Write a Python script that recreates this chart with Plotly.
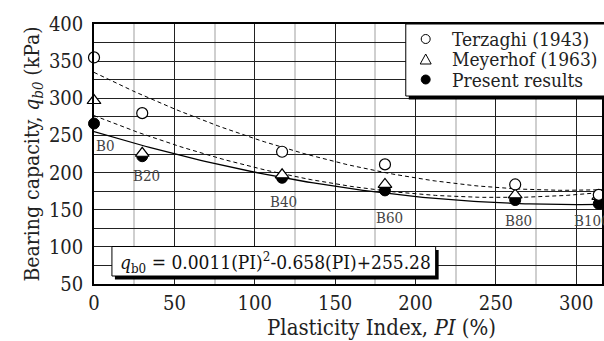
import numpy as np
import plotly.graph_objects as go

# ---- data ----
pi_vals = [0, 30, 117, 181, 262, 314]
terzaghi = [355, 280, 228, 211, 184, 170]
meyerhof = [297, 226, 197, 184, 170, 168]
present = [266, 222, 193, 176, 163, 158]
present_coef = [0.0011, -0.658, 255.28]  # equation shown on chart
sample_labels = ["B0", "B20", "B40", "B60", "B80", "B100"]
label_x = [0, 32.5, 118, 184, 264, 297.5]
label_y = [236, 195, 161, 139, 135, 135]
legend_names = ["Terzaghi (1943)", "Meyerhof (1963)", "Present results"]
x_curve_range = [0, 316]

FONT = "DejaVu Serif Condensed, Liberation Serif, serif"
W, H = 604, 341
L, R, T, B = 94, 0, 24, 57
PW, PH = W - L - R, H - T - B


def px(X):
    return (X - L) / PW


def py(Y):
    return (H - B - Y) / PH


xc = np.linspace(x_curve_range[0], x_curve_range[1], 120)
terz_fit = np.polyval(np.polyfit(pi_vals, terzaghi, 2), xc)
mey_fit = np.polyval(np.polyfit(pi_vals, meyerhof, 2), xc)
pres_fit = np.polyval(present_coef, xc)

fig = go.Figure()
fig.add_trace(go.Scatter(x=xc, y=terz_fit, mode="lines", showlegend=False,
                         line=dict(color="black", width=1, dash="4px,3px")))
fig.add_trace(go.Scatter(x=xc, y=mey_fit, mode="lines", showlegend=False,
                         line=dict(color="black", width=1, dash="4px,3px")))
fig.add_trace(go.Scatter(x=xc, y=pres_fit, mode="lines", showlegend=False,
                         line=dict(color="black", width=1.3)))

fig.add_trace(go.Scatter(x=pi_vals, y=present, mode="markers", name=legend_names[2],
                         cliponaxis=False, showlegend=False,
                         marker=dict(symbol="circle", size=11, color="black",
                                     line=dict(color="black", width=1))))
fig.add_trace(go.Scatter(x=pi_vals, y=meyerhof, mode="markers", name=legend_names[1],
                         cliponaxis=False, showlegend=False,
                         marker=dict(symbol="triangle-up", size=12, color="white",
                                     line=dict(color="black", width=1.2))))
fig.add_trace(go.Scatter(x=pi_vals, y=terzaghi, mode="markers", name=legend_names[0],
                         cliponaxis=False, showlegend=False,
                         marker=dict(symbol="circle", size=11, color="white",
                                     line=dict(color="black", width=1.2))))

annotations = []
for i, (lx, ly, lt) in enumerate(zip(label_x, label_y, sample_labels)):
    anchor = "left" if i in (0, len(sample_labels) - 1) else "center"
    annotations.append(dict(x=lx, y=ly, text=lt, showarrow=False, xanchor=anchor,
                            yanchor="middle", xref="x", yref="y",
                            font=dict(family=FONT, size=15, color="#444")))

# equation text
annotations.append(dict(
    x=px(118), y=py(262), xref="paper", yref="paper", xanchor="left", yanchor="middle",
    text="<i>q</i><sub>b0</sub> = 0.0011(PI)<sup>2</sup>-0.658(PI)+255.28",
    showarrow=False, font=dict(family=FONT, size=19, color="#111")))

# legend texts
leg_rows = [39, 59.5, 79.5]
for name, ry in zip(legend_names, leg_rows):
    annotations.append(dict(x=px(451), y=py(ry), xref="paper", yref="paper",
                            xanchor="left", yanchor="middle", text=name, showarrow=False,
                            font=dict(family=FONT, size=19, color="#222")))

# x axis title (the original figure was wider; its title sits right of centre)
annotations.append(dict(x=px(383), y=py(327), xref="paper", yref="paper",
                        xanchor="center", yanchor="middle",
                        text="Plasticity Index, <i>PI</i> (%)", showarrow=False,
                        font=dict(family=FONT, size=22, color="#222")))


def rect(x0, y0, x1, y1, fill, lw=0):
    return dict(type="rect", xref="paper", yref="paper", x0=px(x0), x1=px(x1),
                y0=py(y1), y1=py(y0), fillcolor=fill,
                line=dict(width=lw, color="black"), layer="above")


shapes = [
    rect(115, 250, 440, 279.5, "black"),
    rect(112, 246.5, 437, 276, "white", 1),
    rect(410, 27, 620, 99.5, "black"),
    rect(407, 24, 620, 96, "white", 1),
]
# legend symbols
cx = 427
r = 4.5
shapes.append(dict(type="circle", xref="paper", yref="paper", x0=px(cx - r), x1=px(cx + r),
                   y0=py(leg_rows[0] + r), y1=py(leg_rows[0] - r), fillcolor="white",
                   line=dict(color="black", width=1), layer="above"))
ty = leg_rows[1]
shapes.append(dict(type="path", xref="paper", yref="paper",
                   path=f"M {px(cx-5.5)},{py(ty+4.5)} L {px(cx+5.5)},{py(ty+4.5)} L {px(cx)},{py(ty-5.5)} Z",
                   fillcolor="white", line=dict(color="black", width=1), layer="above"))
shapes.append(dict(type="circle", xref="paper", yref="paper", x0=px(cx - r), x1=px(cx + r),
                   y0=py(leg_rows[2] + r), y1=py(leg_rows[2] - r), fillcolor="black",
                   line=dict(color="black", width=1), layer="above"))

fig.update_layout(
    width=W, height=H,
    margin=dict(l=L, r=R, t=T, b=B, pad=0),
    paper_bgcolor="white", plot_bgcolor="white",
    font=dict(family=FONT, size=20, color="#222"),
    showlegend=False,
    annotations=annotations,
    shapes=shapes,
    xaxis=dict(range=[0, 316], dtick=50, tick0=0, showgrid=True, gridcolor="#222",
               gridwidth=1, showline=True, linecolor="black", linewidth=1.5, mirror=True,
               ticks="", zeroline=False,
               minor=dict(dtick=25, tick0=0, showgrid=True, gridcolor="#cfcfcf", gridwidth=1.5),
               tickfont=dict(family=FONT, size=20, color="#222")),
    yaxis=dict(range=[50, 400], dtick=50, tick0=0, showgrid=True, gridcolor="#222",
               gridwidth=1, showline=True, linecolor="black", linewidth=1.5, mirror=True,
               ticks="", zeroline=False, ticklabelstandoff=5,
               minor=dict(dtick=25, tick0=0, showgrid=True, gridcolor="#222", gridwidth=1),
               title=dict(text="Bearing capacity, <i>q<sub>b0</sub></i> (kPa)", standoff=4,
                          font=dict(family=FONT, size=21, color="#222")),
               tickfont=dict(family=FONT, size=20, color="#222")),
)

fig.write_html("out.html")
